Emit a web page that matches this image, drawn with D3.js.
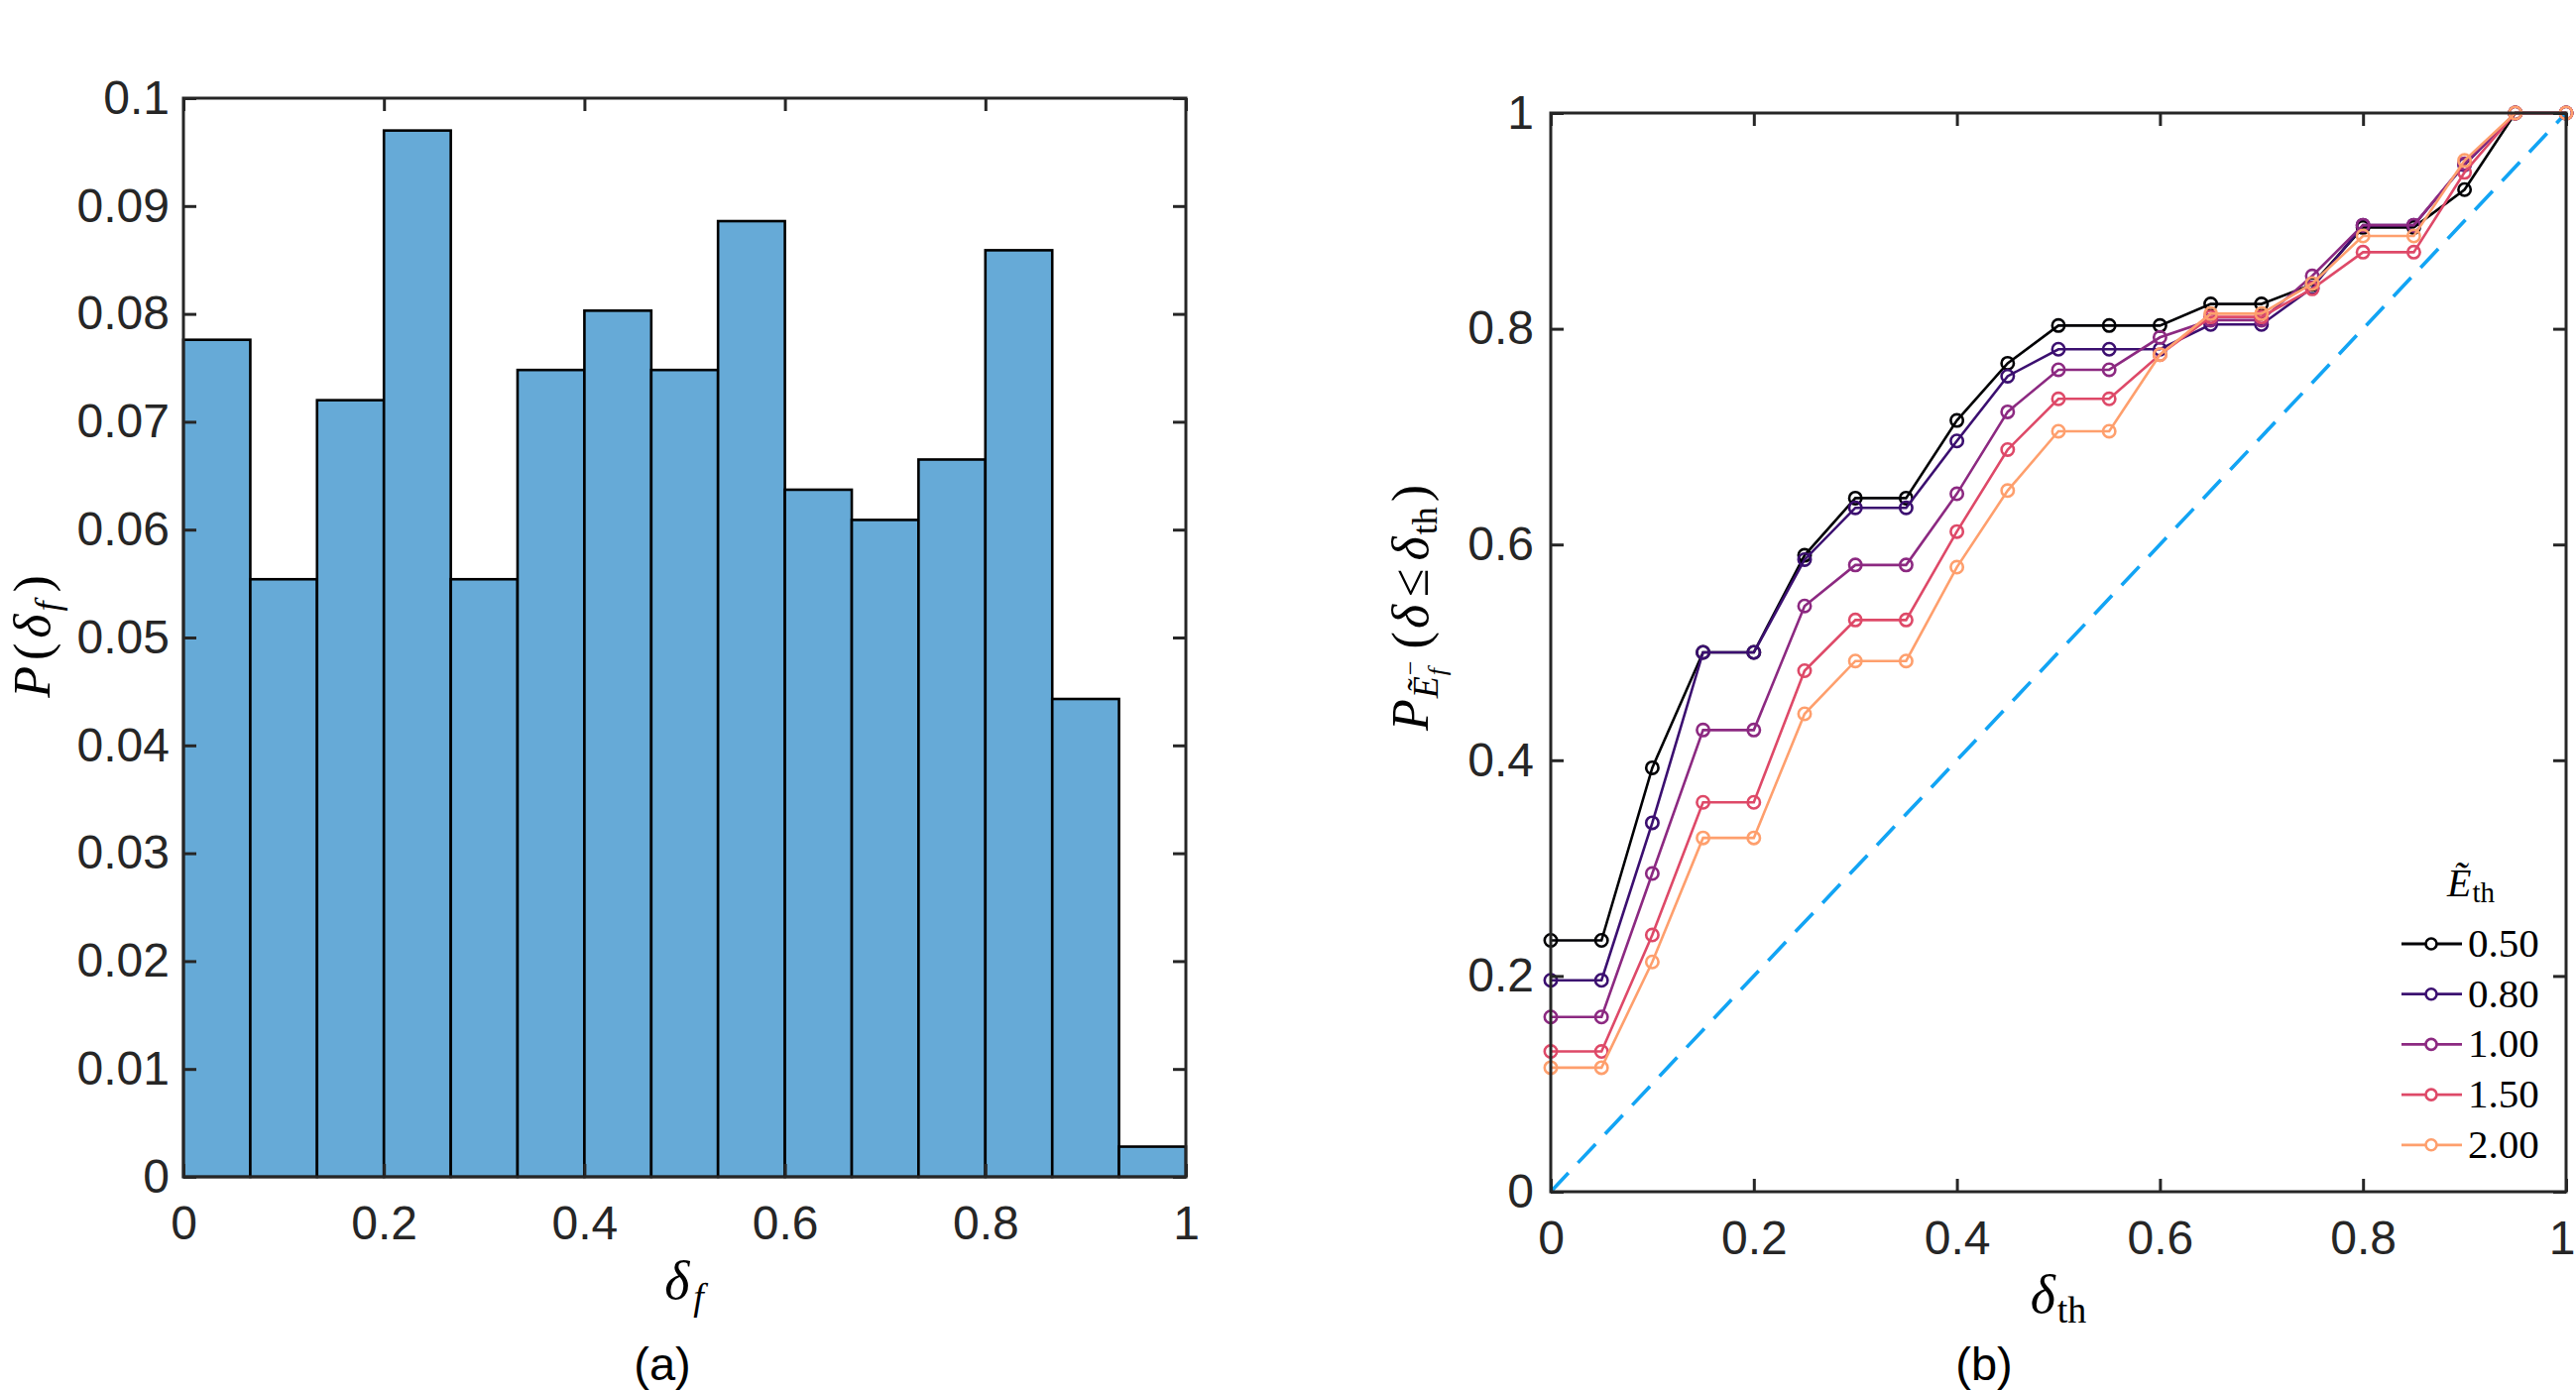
<!DOCTYPE html>
<html>
<head>
<meta charset="utf-8">
<script src="https://cdn.jsdelivr.net/npm/d3@7"></script>
<style>
    body { margin: 0; background: #fff; }
    svg { display: block; }
    .axis text { font-family: "Liberation Sans", Arial, sans-serif; font-size: 48px; fill: #262626; }
    .axis line { stroke: #262626; stroke-width: 3; }
    .axis path { display: none; }
    .math { font-family: "Liberation Serif", "Times New Roman", serif; fill: #000; }
    .panel { font-family: "Liberation Sans", Arial, sans-serif; font-size: 47px; fill: #000; }
</style>
</head>
<body>
<div id="chart"></div>
<script>

// ---- (a) histogram of delta_f ----
const binEdges = [0, 0.0667, 0.1333, 0.2, 0.2667, 0.3333, 0.4, 0.4667, 0.5333, 0.6, 0.6667, 0.7333, 0.8, 0.8667, 0.9333, 1];
const probDeltaF = [0.0776, 0.0554, 0.0720, 0.0970, 0.0554, 0.0748, 0.0803, 0.0748, 0.0886, 0.0637, 0.0609, 0.0665, 0.0859, 0.0443, 0.0028];
const yTicksA = [0, 0.01, 0.02, 0.03, 0.04, 0.05, 0.06, 0.07, 0.08, 0.09, 0.1];
const xTicks = [0, 0.2, 0.4, 0.6, 0.8, 1];

// ---- (b) cumulative probability vs delta_th ----
const deltaTh = [0, 0.05, 0.1, 0.15, 0.2, 0.25, 0.3, 0.35, 0.4, 0.45, 0.5, 0.55, 0.6, 0.65, 0.7, 0.75, 0.8, 0.85, 0.9, 0.95, 1];
const eThLabels = ["0.50", "0.80", "1.00", "1.50", "2.00"];
const cdf050 = [0.233, 0.233, 0.393, 0.500, 0.500, 0.590, 0.643, 0.643, 0.715, 0.768, 0.803, 0.803, 0.803, 0.823, 0.823, 0.841, 0.894, 0.894, 0.929, 1, 1];
const cdf080 = [0.196, 0.196, 0.342, 0.500, 0.500, 0.586, 0.634, 0.634, 0.696, 0.756, 0.781, 0.781, 0.781, 0.804, 0.804, 0.838, 0.896, 0.896, 0.952, 1, 1];
const cdf100 = [0.162, 0.162, 0.295, 0.428, 0.428, 0.543, 0.581, 0.581, 0.647, 0.723, 0.762, 0.762, 0.792, 0.808, 0.808, 0.849, 0.896, 0.896, 0.953, 1, 1];
const cdf150 = [0.130, 0.130, 0.238, 0.361, 0.361, 0.483, 0.530, 0.530, 0.612, 0.688, 0.735, 0.735, 0.776, 0.811, 0.811, 0.837, 0.871, 0.871, 0.945, 1, 1];
const cdf200 = [0.115, 0.115, 0.213, 0.328, 0.328, 0.443, 0.492, 0.492, 0.579, 0.650, 0.705, 0.705, 0.776, 0.814, 0.814, 0.842, 0.886, 0.886, 0.956, 1, 1];
const seriesColors = ["#000004", "#3b0f70", "#8c2981", "#de4968", "#fe9f6d"];
const yTicksB = [0, 0.2, 0.4, 0.6, 0.8, 1];

const fmt = d => String(+d.toFixed(2));

const svg = d3.select("#chart").append("svg")
    .attr("width", 2598)
    .attr("height", 1402);

// draws the box with inward ticks on all four sides
function drawFrame(g, x, y, xt, yt, pad) {
    const w = x.range()[1], h = y.range()[0];
    g.append("g").attr("class", "axis x-axis")
        .attr("transform", "translate(0," + h + ")")
        .call(d3.axisBottom(x).tickValues(xt).tickFormat(fmt).tickSizeInner(-13).tickSizeOuter(0).tickPadding(pad.x));
    g.append("g").attr("class", "axis")
        .call(d3.axisTop(x).tickValues(xt).tickFormat("").tickSizeInner(-13).tickSizeOuter(0));
    g.append("g").attr("class", "axis")
        .call(d3.axisLeft(y).tickValues(yt).tickFormat(fmt).tickSizeInner(-13).tickSizeOuter(0).tickPadding(pad.y));
    g.append("g").attr("class", "axis")
        .attr("transform", "translate(" + w + ",0)")
        .call(d3.axisRight(y).tickValues(yt).tickFormat("").tickSizeInner(-13).tickSizeOuter(0));
    g.append("rect")
        .attr("width", w).attr("height", h)
        .attr("fill", "none").attr("stroke", "#262626").attr("stroke-width", 3);
}

// ---------- panel (a) ----------
const A = {left: 185, top: 99, width: 1011, height: 1088};
const ga = svg.append("g").attr("transform", "translate(" + A.left + "," + A.top + ")");
const xA = d3.scaleLinear().domain([0, 1]).range([0, A.width]);
const yA = d3.scaleLinear().domain([0, 0.1]).range([A.height, 0]);

ga.selectAll("rect.bar")
    .data(probDeltaF)
    .enter().append("rect")
    .attr("class", "bar")
    .attr("x", (d, i) => xA(binEdges[i]))
    .attr("width", (d, i) => xA(binEdges[i + 1]) - xA(binEdges[i]))
    .attr("y", d => yA(d))
    .attr("height", d => yA(0) - yA(d))
    .attr("fill", "#66aad7")
    .attr("stroke", "#000")
    .attr("stroke-width", 2.6);

drawFrame(ga, xA, yA, xTicks, yTicksA, {x: 29, y: 14});

// y label P(delta_f)
const yla = svg.append("text").attr("class", "math")
    .attr("transform", "translate(50,642) rotate(-90)")
    .attr("text-anchor", "middle")
    .attr("font-size", 52);
yla.append("tspan").attr("font-style", "italic").text("P");
yla.append("tspan").attr("dx", 6).text("(");
yla.append("tspan").attr("font-style", "italic").attr("dx", 5).text("δ");
yla.append("tspan").attr("font-style", "italic").attr("font-size", 36).attr("dy", 10).attr("dx", 3).text("f");
yla.append("tspan").attr("dy", -10).attr("dx", 9).text(")");

// x label delta_f
const xla = svg.append("text").attr("class", "math")
    .attr("x", 690).attr("y", 1310)
    .attr("text-anchor", "middle")
    .attr("font-size", 54);
xla.append("tspan").attr("font-style", "italic").text("δ");
xla.append("tspan").attr("font-style", "italic").attr("font-size", 38).attr("dy", 11).attr("dx", 4).text("f");

svg.append("text").attr("class", "panel")
    .attr("x", 668).attr("y", 1392)
    .attr("text-anchor", "middle")
    .text("(a)");

// ---------- panel (b) ----------
const B = {left: 1564, top: 114, width: 1024, height: 1088};
const gb = svg.append("g").attr("transform", "translate(" + B.left + "," + B.top + ")");
const xB = d3.scaleLinear().domain([0, 1]).range([0, B.width]);
const yB = d3.scaleLinear().domain([0, 1]).range([B.height, 0]);

// reference diagonal
gb.append("line")
    .attr("x1", xB(0)).attr("y1", yB(0))
    .attr("x2", xB(1)).attr("y2", yB(1))
    .attr("stroke", "#12a4f4")
    .attr("stroke-width", 3.6)
    .attr("stroke-dasharray", "26,14");

const allSeries = [cdf050, cdf080, cdf100, cdf150, cdf200];
const line = d3.line()
    .x((d, i) => xB(deltaTh[i]))
    .y(d => yB(d));

allSeries.forEach(function(s, k) {
    gb.append("path")
        .datum(s)
        .attr("fill", "none")
        .attr("stroke", seriesColors[k])
        .attr("stroke-width", 2.6)
        .attr("d", line);
    gb.selectAll("circle.s" + k)
        .data(s)
        .enter().append("circle")
        .attr("class", "s" + k)
        .attr("cx", (d, i) => xB(deltaTh[i]))
        .attr("cy", d => yB(d))
        .attr("r", 6.2)
        .attr("fill", "none")
        .attr("stroke", seriesColors[k])
        .attr("stroke-width", 2.6);
});

drawFrame(gb, xB, yB, xTicks, yTicksB, {x: 29, y: 17});

// keep the last x tick label of (b) inside the page
gb.select(".x-axis").selectAll(".tick text")
    .filter(d => d === 1)
    .attr("text-anchor", "end")
    .attr("x", 9);

// legend
const legTitle = svg.append("text").attr("class", "math")
    .attr("x", 2492).attr("y", 904)
    .attr("text-anchor", "middle")
    .attr("font-size", 40);
legTitle.append("tspan").attr("font-style", "italic").text("Ẽ");
legTitle.append("tspan").attr("font-size", 29).attr("dy", 6).attr("dx", 1).text("th");

const leg = svg.append("g").attr("transform", "translate(2422,952)");
eThLabels.forEach(function(lab, k) {
    const row = leg.append("g").attr("transform", "translate(0," + (k * 50.7) + ")");
    row.append("line").attr("x1", 0).attr("x2", 61)
        .attr("stroke", seriesColors[k]).attr("stroke-width", 2.8);
    row.append("circle").attr("cx", 30).attr("r", 5.5)
        .attr("fill", "#fff").attr("stroke", seriesColors[k]).attr("stroke-width", 2.6);
    row.append("text").attr("class", "math")
        .attr("x", 67).attr("y", 13)
        .attr("font-size", 41)
        .text(lab);
});

// y label P_{E_f^-}(delta <= delta_th)
const ylb = svg.append("text").attr("class", "math")
    .attr("transform", "translate(1440,613) rotate(-90)")
    .attr("text-anchor", "middle")
    .attr("font-size", 52);
ylb.append("tspan").attr("font-style", "italic").text("P");
ylb.append("tspan").attr("font-style", "italic").attr("font-size", 36).attr("dy", 10).attr("dx", 1).text("Ẽ");
ylb.append("tspan").attr("font-style", "italic").attr("font-size", 26).attr("dy", 8).attr("dx", 1).text("f");
ylb.append("tspan").attr("font-size", 26).attr("dy", -27).attr("dx", -7).text("−");
ylb.append("tspan").attr("dy", 9).attr("dx", 12).text("(");
ylb.append("tspan").attr("font-style", "italic").attr("dx", 3).text("δ");
ylb.append("tspan").attr("dx", 8).text("≤");
ylb.append("tspan").attr("font-style", "italic").attr("dx", 8).text("δ");
ylb.append("tspan").attr("font-size", 36).attr("dy", 9).attr("dx", 2).text("th");
ylb.append("tspan").attr("dy", -9).attr("dx", 5).text(")");

// x label delta_th
const xlb = svg.append("text").attr("class", "math")
    .attr("x", 2076).attr("y", 1324)
    .attr("text-anchor", "middle")
    .attr("font-size", 54);
xlb.append("tspan").attr("font-style", "italic").text("δ");
xlb.append("tspan").attr("font-size", 38).attr("dy", 10).attr("dx", 2).text("th");

svg.append("text").attr("class", "panel")
    .attr("x", 2001).attr("y", 1392)
    .attr("text-anchor", "middle")
    .text("(b)");

</script>
</body>
</html>
